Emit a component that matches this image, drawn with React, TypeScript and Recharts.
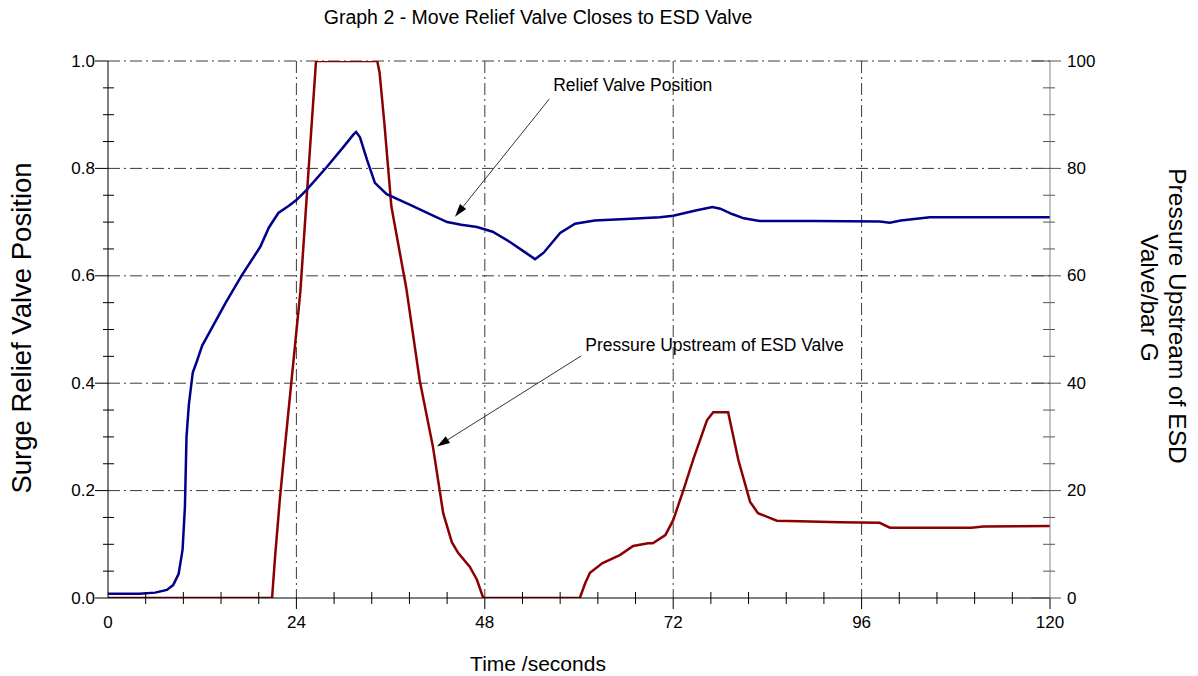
import React from "react";
import { ComposedChart, Line, XAxis, YAxis, CartesianGrid, ReferenceLine } from "recharts";

// relief valve position (left axis)
const relTime = [0, 4, 6, 7.5, 8.3, 9, 9.5, 9.8, 10, 10.3, 10.8, 11.3, 12, 13.5, 15, 17, 19.4, 20.5, 21.7, 23, 24, 25.3, 27.9, 30, 31.2, 31.6, 32.1, 33, 34, 35.5, 38.5, 41, 43.2, 45, 47, 49, 51.2, 53, 54.4, 55.5, 57.6, 59.5, 62, 66, 70.3, 72, 75, 77, 78, 79.5, 81, 83, 90, 98.3, 99.6, 101, 104.7, 120];
const relPos = [0.008, 0.008, 0.01, 0.015, 0.024, 0.045, 0.09, 0.17, 0.3, 0.36, 0.42, 0.44, 0.47, 0.51, 0.55, 0.6, 0.654, 0.69, 0.717, 0.73, 0.741, 0.76, 0.803, 0.84, 0.862, 0.868, 0.858, 0.816, 0.773, 0.752, 0.732, 0.715, 0.7, 0.695, 0.691, 0.682, 0.663, 0.645, 0.631, 0.643, 0.68, 0.697, 0.703, 0.706, 0.709, 0.712, 0.722, 0.728, 0.725, 0.715, 0.707, 0.702, 0.702, 0.701, 0.699, 0.703, 0.709, 0.709];

// pressure upstream of ESD valve (right axis)
const presTime = [0, 20.9, 21.3, 21.9, 22.5, 24.5, 25.1, 25.7, 26.5, 34.3, 34.6, 35.2, 36.1, 38, 39.7, 41.4, 42.7, 43.8, 44.6, 46.1, 47, 47.8, 60.1, 60.8, 61.4, 63, 65.2, 66.9, 68.8, 69.4, 71, 72, 73.3, 74.6, 76.3, 77.1, 79, 80.3, 81.8, 82.8, 85.2, 88.1, 93.2, 98.3, 99.6, 110, 111.5, 120];
const presVal = [0, 0, 8, 18.5, 27.6, 57, 70, 83, 100, 100, 97.8, 88.5, 72.9, 57.7, 40.6, 28.1, 15.8, 10.4, 8.4, 5.8, 3.4, 0, 0, 2.8, 4.7, 6.5, 8, 9.7, 10.2, 10.2, 11.7, 14.5, 20.1, 26, 33.1, 34.6, 34.6, 25.7, 17.9, 15.8, 14.4, 14.3, 14.1, 14.0, 13.1, 13.1, 13.3, 13.4];

const timeTicks = [0, 4.8, 9.6, 14.4, 19.2, 24, 28.8, 33.6, 38.4, 43.2, 48, 52.8, 57.6, 62.4, 67.2, 72, 76.8, 81.6, 86.4, 91.2, 96, 100.8, 105.6, 110.4, 115.2, 120];
const timeMajor = [0, 24, 48, 72, 96, 120];
const posTicks = [0, 0.05, 0.1, 0.15, 0.2, 0.25, 0.3, 0.35, 0.4, 0.45, 0.5, 0.55, 0.6, 0.65, 0.7, 0.75, 0.8, 0.85, 0.9, 0.95, 1];
const posMajor = [0, 0.2, 0.4, 0.6, 0.8, 1];
const presTicks = [0, 5, 10, 15, 20, 25, 30, 35, 40, 45, 50, 55, 60, 65, 70, 75, 80, 85, 90, 95, 100];
const presMajor = [0, 20, 40, 60, 80, 100];

const relData = relTime.map((t, i) => ({ t, v: relPos[i] }));
const presData = presTime.map((t, i) => ({ t, p: presVal[i] }));

const FONT = "Arial, 'Liberation Sans', sans-serif";
const isIn = (arr: number[], v: number) => arr.some((a) => Math.abs(a - v) < 1e-6);

const TimeTick = ({ x, y, payload }: any) => {
  const v = payload.value;
  if (isIn(timeMajor, v)) {
    return (
      <g>
        {v !== 0 && <line x1={x} x2={x} y1={y} y2={y + 11} stroke="#000" />}
        <text x={x} y={y + 24} textAnchor="middle" dominantBaseline="central" fontSize={17} fontFamily={FONT} fill="#000">
          {Math.round(v)}
        </text>
      </g>
    );
  }
  return <line x1={x} x2={x} y1={y - 6} y2={y + 6} stroke="#000" />;
};

const PosTick = ({ x, y, payload }: any) => {
  const v = payload.value;
  if (isIn(posMajor, v)) {
    return (
      <g>
        <line x1={x - 13} x2={x} y1={y} y2={y} stroke="#000" />
        <text x={x - 13} y={y} textAnchor="end" dominantBaseline="central" fontSize={17} fontFamily={FONT} fill="#000">
          {v.toFixed(1)}
        </text>
      </g>
    );
  }
  return <line x1={x - 5} x2={x + 6} y1={y} y2={y} stroke="#000" />;
};

const PresTick = ({ x, y, payload }: any) => {
  const v = payload.value;
  if (isIn(presMajor, v)) {
    return (
      <g>
        <line x1={x - 19} x2={x + 11} y1={y} y2={y} stroke="#555" />
        <text x={x + 17} y={y} textAnchor="start" dominantBaseline="central" fontSize={17} fontFamily={FONT} fill="#000">
          {Math.round(v)}
        </text>
      </g>
    );
  }
  return <line x1={x - 7} x2={x + 5} y1={y} y2={y} stroke="#555" />;
};

const arrowShape = (text: string, dx: number, dy: number) => (props: any) => {
  const { x1, y1, x2, y2 } = props;
  const ang = Math.atan2(y2 - y1, x2 - x1);
  const len = 13;
  const hw = 4;
  const bx = x2 - len * Math.cos(ang);
  const by = y2 - len * Math.sin(ang);
  const px = -Math.sin(ang) * hw;
  const py = Math.cos(ang) * hw;
  return (
    <g>
      <line x1={x1} y1={y1} x2={bx} y2={by} stroke="#333" strokeWidth={1} />
      <polygon points={`${x2},${y2} ${bx + px},${by + py} ${bx - px},${by - py}`} fill="#000" />
      <text x={x1 + dx} y={y1 + dy} dominantBaseline="central" fontSize={17.5} fontFamily={FONT} fill="#000">
        {text}
      </text>
    </g>
  );
};

const abs = (extra: React.CSSProperties): React.CSSProperties => ({
  position: "absolute",
  whiteSpace: "nowrap",
  lineHeight: 1,
  fontFamily: FONT,
  color: "#000",
  transform: "translate(-50%, -50%)",
  ...extra,
});

export default function App() {
  return (
    <div style={{ position: "absolute", left: 0, top: 0, width: 1198, height: 676, background: "#fff" }}>
      <ComposedChart width={1198} height={676} margin={{ top: 61, right: 0, bottom: 0, left: 0 }}>
        <CartesianGrid
          stroke="#3a3a3a"
          strokeDasharray="12 4 2 4"
          horizontalValues={[0.2, 0.4, 0.6, 0.8, 1]}
          verticalValues={[24, 48, 72, 96]}
        />
        <XAxis
          type="number"
          dataKey="t"
          domain={[0, 120]}
          ticks={timeTicks}
          interval={0}
          tickSize={0}
          tickMargin={0}
          tickLine={false}
          tick={<TimeTick />}
          axisLine={{ stroke: "#000" }}
          height={78}
          allowDataOverflow
        />
        <YAxis
          type="number"
          domain={[0, 1]}
          ticks={posTicks}
          interval={0}
          tickSize={0}
          tickMargin={0}
          tickLine={false}
          tick={<PosTick />}
          axisLine={{ stroke: "#000" }}
          width={108}
          allowDataOverflow
        />
        <YAxis
          yAxisId="pres"
          orientation="right"
          type="number"
          domain={[0, 100]}
          ticks={presTicks}
          interval={0}
          tickSize={0}
          tickMargin={0}
          tickLine={false}
          tick={<PresTick />}
          axisLine={{ stroke: "#888" }}
          width={148}
          allowDataOverflow
        />
        <Line data={presData} dataKey="p" yAxisId="pres" type="linear" stroke="#8b0000" strokeWidth={2.5} dot={false} activeDot={false} isAnimationActive={false} />
        <Line data={relData} dataKey="v" type="linear" stroke="#00008b" strokeWidth={2.5} dot={false} activeDot={false} isAnimationActive={false} />
        <ReferenceLine
          segment={[{ x: 56.2, y: 0.929 }, { x: 44.2, y: 0.71 }]}
          shape={arrowShape("Relief Valve Position", 4, -14)}
        />
        <ReferenceLine
          yAxisId="pres"
          segment={[{ x: 60.3, y: 45.1 }, { x: 41.9, y: 28.2 }]}
          shape={arrowShape("Pressure Upstream of ESD Valve", 4, -11)}
        />
      </ComposedChart>
      <div style={abs({ left: 538, top: 18, fontSize: 19.5 })}>Graph 2 - Move Relief Valve Closes to ESD Valve</div>
      <div style={abs({ left: 538, top: 663, fontSize: 21 })}>Time /seconds</div>
      <div style={abs({ left: 22, top: 328, fontSize: 27.5, transform: "translate(-50%, -50%) rotate(-90deg)" })}>
        Surge Relief Valve Position
      </div>
      <div style={abs({ left: 1177, top: 316, fontSize: 24.5, transform: "translate(-50%, -50%) rotate(90deg)" })}>
        Pressure Upstream of ESD
      </div>
      <div style={abs({ left: 1149, top: 298, fontSize: 24.5, transform: "translate(-50%, -50%) rotate(90deg)" })}>
        Valve/bar G
      </div>
    </div>
  );
}
